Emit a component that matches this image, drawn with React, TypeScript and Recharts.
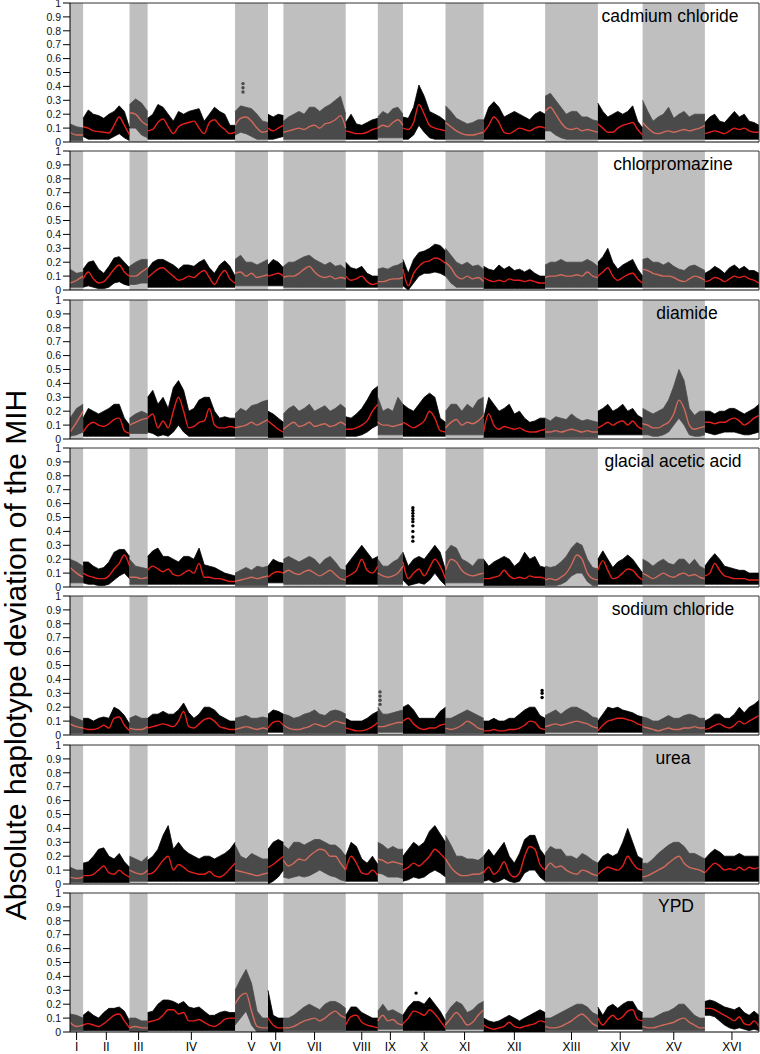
import React from "react";
import {
  ComposedChart,
  Area,
  Line,
  Scatter,
  XAxis,
  YAxis,
  ReferenceArea,
  ReferenceLine,
} from "recharts";

// chromosome layout (kb)
const chromNames = ["I", "II", "III", "IV", "V", "VI", "VII", "VIII", "IX", "X", "XI", "XII", "XIII", "XIV", "XV", "XVI"];
const chromLengths = [230, 813, 317, 1532, 577, 270, 1091, 563, 440, 746, 667, 1078, 924, 784, 1091, 948];
const yTicks = [0, 0.1, 0.2, 0.3, 0.4, 0.5, 0.6, 0.7, 0.8, 0.9, 1];

// per panel: fitted curve, upper and lower edge of the point cloud, per chromosome
const cadmiumFit = [
  [.07, .05, .05],
  [.11, .10, .08, .075, .07, .065, .12, .18, .12, .05],
  [.21, .20, .15, .12],
  [.08, .09, .14, .165, .11, .06, .11, .13, .14, .15, .10, .06, .14, .16, .12, .09, .06, .07],
  [.12, .17, .18, .15, .10, .07, .08],
  [.10, .08, .10, .12],
  [.07, .08, .09, .10, .09, .11, .12, .10, .13, .14, .16, .19, .10],
  [.08, .07, .06, .06, .07, .09, .10],
  [.10, .12, .11, .14, .16, .12],
  [.10, .09, .14, .27, .20, .12, .10, .09, .08],
  [.14, .11, .08, .06, .05, .05, .06, .07],
  [.07, .12, .18, .14, .07, .06, .08, .10, .09, .08, .10, .11, .10],
  [.22, .25, .20, .14, .10, .09, .10, .08, .09, .08, .07],
  [.13, .10, .07, .07, .10, .12, .13, .14, .09, .05],
  [.14, .10, .07, .06, .07, .08, .07, .08, .09, .08, .09, .10, .12],
  [.06, .07, .08, .07, .06, .08, .10, .09, .10, .08, .07, .07],
];
const cadmiumHi = [
  [.13, .11, .10],
  [.17, .23, .20, .19, .17, .20, .22, .26, .22, .10],
  [.27, .31, .28, .22],
  [.17, .20, .27, .25, .20, .15, .22, .20, .22, .23, .24, .15, .20, .25, .22, .20, .12, .12],
  [.22, .26, .25, .24, .20, .15, .14],
  [.20, .18, .20, .19],
  [.15, .18, .20, .22, .20, .25, .25, .22, .25, .27, .30, .33, .20],
  [.14, .20, .13, .12, .14, .16, .17],
  [.18, .22, .20, .24, .25, .20],
  [.18, .17, .25, .41, .33, .22, .20, .18, .15],
  [.26, .22, .17, .15, .13, .14, .16, .16],
  [.15, .25, .29, .25, .18, .20, .22, .20, .18, .16, .20, .22, .20],
  [.33, .35, .30, .25, .20, .22, .22, .18, .18, .16, .15],
  [.28, .22, .18, .20, .22, .20, .22, .26, .15, .10],
  [.30, .22, .15, .18, .20, .25, .17, .20, .22, .18, .20, .20, .20],
  [.14, .18, .20, .15, .14, .18, .22, .18, .20, .15, .14, .12],
];
const cadmiumLo = [
  .01, [.04, .02, .02, .02, .02, .02, .04, .06, .03, .01], [.10, .10, .05, .03], .02,
  [.05, .07, .06, .04, .02, .02, .02], [.02, .02, .03, .04], .02, .02, .03,
  [.02, .02, .05, .12, .07, .03, .02, .02, .02], .02, .02,
  [.08, .08, .05, .03, .02, .02, .02, .02, .02, .02, .02], .02, .02, .02,
];
const cadmiumOutliers = [{ x: 3031, y: .42 }, { x: 3031, y: .39 }, { x: 3031, y: .36 }];

const chlorFit = [
  [.05, .07, .10],
  [.08, .13, .08, .05, .06, .10, .15, .18, .13, .10],
  [.10, .10, .13, .16],
  [.09, .12, .15, .16, .13, .10, .07, .08, .10, .09, .12, .14, .09, .04, .10, .14, .08, .05],
  [.12, .13, .10, .12, .09, .10, .11],
  [.10, .11, .12, .10],
  [.09, .10, .10, .12, .15, .17, .13, .10, .09, .10, .08, .09, .08],
  [.10, .07, .08, .10, .06, .04, .05],
  [.06, .06, .07, .08, .08, .09],
  [.15, .03, .12, .17, .20, .21, .23, .22, .19],
  [.20, .16, .10, .08, .10, .08, .09, .06],
  [.09, .07, .06, .07, .06, .08, .07, .07, .06, .07, .06, .05, .05],
  [.09, .10, .10, .11, .10, .10, .11, .10, .13, .10, .09],
  [.10, .13, .16, .10, .07, .09, .11, .12, .08, .05],
  [.15, .14, .12, .11, .10, .10, .09, .07, .06, .08, .10, .09, .07],
  [.06, .07, .09, .08, .06, .08, .10, .09, .10, .08, .07, .05],
];
const chlorHi = [
  [.15, .12, .13],
  [.15, .20, .21, .15, .12, .17, .23, .24, .20, .16],
  [.17, .20, .22, .22],
  [.15, .20, .22, .22, .20, .18, .15, .18, .18, .17, .20, .22, .16, .12, .18, .21, .17, .10],
  [.22, .25, .20, .20, .18, .20, .22],
  [.18, .22, .20, .16],
  [.17, .20, .20, .22, .24, .25, .22, .20, .18, .20, .17, .18, .15],
  [.20, .16, .15, .17, .12, .10, .10],
  [.15, .16, .15, .17, .18, .20],
  [.22, .12, .22, .27, .28, .30, .33, .32, .28],
  [.30, .25, .20, .18, .20, .17, .18, .15],
  [.17, .15, .14, .18, .15, .17, .14, .15, .13, .15, .12, .10, .10],
  [.18, .20, .20, .22, .20, .20, .20, .20, .22, .20, .17],
  [.20, .24, .30, .20, .15, .18, .20, .22, .15, .10],
  [.22, .23, .20, .20, .18, .20, .17, .15, .14, .17, .18, .16, .14],
  [.12, .14, .17, .15, .12, .16, .18, .15, .17, .14, .14, .12],
];
const chlorLo = [
  .02, [.02, .03, .02, .01, .01, .02, .05, .06, .04, .03], [.04, .04, .05, .05], .02,
  .03, .03, .02, .02, .02, [.03, 0, .05, .10, .12, .12, .13, .12, .10],
  [.10, .05, .02, .02, .02, .02, .02, .02], .01, .02, .02, .02, .02,
];

const diamideFit = [
  [.05, .12, .20],
  [.05, .10, .12, .10, .09, .11, .14, .15, .06, .04],
  [.10, .12, .14, .15],
  [.15, .18, .08, .13, .08, .20, .30, .20, .08, .09, .12, .13, .22, .10, .08, .08, .09, .08],
  [.08, .09, .10, .12, .10, .12, .14],
  [.13, .10, .07, .05],
  [.07, .10, .12, .09, .10, .12, .09, .10, .11, .09, .10, .12, .10],
  [.07, .07, .08, .10, .13, .20, .25],
  [.12, .10, .10, .09, .10, .11],
  [.12, .10, .08, .10, .13, .20, .15, .06, .05],
  [.08, .12, .14, .10, .12, .11, .13, .17],
  [.05, .18, .10, .07, .09, .08, .07, .08, .06, .05, .05, .06, .07],
  [.05, .05, .06, .05, .06, .07, .06, .05, .06, .05, .05],
  [.08, .10, .12, .10, .12, .13, .10, .13, .09, .07],
  [.11, .10, .08, .08, .10, .12, .18, .28, .22, .10, .07, .08, .09],
  [.12, .12, .11, .12, .12, .14, .15, .13, .10, .12, .15, .17],
];
const diamideHi = [
  [.15, .22, .25],
  [.15, .22, .20, .18, .20, .22, .25, .25, .15, .10],
  [.15, .18, .20, .18],
  [.30, .35, .25, .30, .22, .37, .42, .35, .20, .22, .28, .30, .30, .20, .15, .16, .15, .15],
  [.18, .22, .20, .24, .25, .27, .28],
  [.20, .18, .15, .12],
  [.18, .22, .24, .20, .22, .25, .20, .22, .24, .20, .22, .25, .22],
  [.16, .15, .18, .22, .28, .35, .38],
  [.30, .20, .22, .20, .30, .25],
  [.25, .22, .20, .25, .30, .33, .30, .15, .12],
  [.20, .25, .25, .20, .25, .22, .28, .30],
  [.15, .30, .25, .20, .22, .25, .18, .20, .15, .12, .13, .15, .15],
  [.15, .13, .16, .15, .14, .18, .15, .13, .14, .13, .12],
  [.20, .22, .25, .20, .22, .25, .20, .22, .17, .15],
  [.22, .20, .18, .20, .22, .28, .38, .50, .42, .22, .17, .20, .20],
  [.20, .20, .18, .20, .20, .22, .22, .20, .18, .20, .22, .25],
];
const diamideLo = [
  [.02, .03, .05], .02, .04,
  [.05, .04, .02, .03, .02, .05, .10, .05, .02, .02, .02, .02, .02, .02, .02, .02, .02, .02],
  .02, .01, .02, [.02, .02, .02, .03, .05, .08, .10], .03, .02, .03, .01, .01, .03,
  [.03, .03, .02, .02, .03, .05, .10, .15, .10, .03, .02, .02, .03],
  [.05, .04, .03, .04, .05, .05, .05, .04, .03, .03, .04, .05],
];

const aceticFit = [
  [.14, .10, .07],
  [.10, .08, .07, .06, .06, .08, .13, .17, .23, .15],
  [.07, .07, .06, .07],
  [.12, .15, .13, .11, .13, .09, .08, .10, .12, .10, .17, .07, .07, .06, .06, .05, .04, .04],
  [.04, .05, .06, .07, .06, .07, .08],
  [.07, .10, .11, .10],
  [.10, .12, .10, .09, .11, .12, .10, .08, .10, .12, .09, .06, .05],
  [.07, .09, .12, .20, .12, .10, .15],
  [.10, .08, .07, .08, .10, .15],
  [.18, .06, .10, .13, .08, .14, .20, .15, .06],
  [.12, .20, .18, .12, .09, .08, .09, .10],
  [.06, .06, .07, .08, .12, .08, .06, .07, .06, .08, .07, .07, .06],
  [.05, .06, .05, .07, .10, .16, .23, .20, .10, .06, .05],
  [.12, .19, .12, .06, .07, .10, .13, .12, .08, .05],
  [.10, .08, .06, .08, .10, .08, .07, .09, .10, .08, .09, .07, .06],
  [.08, .10, .17, .12, .08, .07, .06, .06, .06, .05, .05, .05],
];
const aceticHi = [
  [.20, .18, .15],
  [.18, .18, .15, .13, .14, .18, .25, .27, .27, .22],
  [.20, .15, .14, .13],
  [.22, .26, .28, .22, .22, .20, .18, .22, .22, .20, .28, .16, .15, .14, .12, .10, .09, .08],
  [.10, .12, .14, .12, .15, .14, .15],
  [.15, .20, .18, .17],
  [.20, .22, .20, .18, .20, .22, .20, .16, .20, .22, .18, .13, .12],
  [.15, .20, .25, .30, .25, .20, .22],
  [.20, .15, .15, .18, .20, .25],
  [.25, .15, .20, .22, .20, .25, .30, .25, .12],
  [.25, .30, .28, .20, .18, .15, .20, .20],
  [.20, .15, .18, .20, .22, .20, .15, .18, .25, .20, .22, .15, .14],
  [.15, .14, .15, .18, .22, .28, .32, .30, .20, .14, .13],
  [.20, .26, .20, .14, .18, .20, .23, .20, .15, .10],
  [.20, .18, .15, .18, .20, .17, .16, .20, .20, .16, .20, .15, .13],
  [.15, .20, .24, .20, .15, .14, .13, .12, .12, .10, .10, .10],
];
const aceticLo = [
  .03, [.03, .02, .02, .01, .01, .02, .05, .08, .10, .06], .02, .02, .01, .03, .02, .02, .02,
  [.05, .01, .02, .03, .02, .05, .10, .05, .01], .03, .01,
  [.01, .01, .01, .02, .04, .08, .10, .10, .04, .01, .01], .02, .02, .02,
];
const aceticOutliers = [.57, .55, .53, .51, .49, .47, .44, .40, .36, .33].map((y) => ({ x: 6007, y }));

const sodiumFit = [
  [.08, .06, .05],
  [.05, .04, .04, .05, .07, .05, .12, .13, .07, .03],
  [.05, .04, .04, .06],
  [.05, .06, .07, .08, .07, .06, .10, .17, .06, .05, .08, .11, .12, .10, .06, .05, .04, .04],
  [.04, .05, .06, .05, .04, .05, .04],
  [.05, .09, .10, .07],
  [.07, .05, .04, .04, .05, .06, .08, .07, .06, .08, .10, .09, .08],
  [.05, .04, .03, .03, .04, .06, .09],
  [.06, .06, .07, .08, .09, .09],
  [.10, .12, .08, .05, .04, .05, .05, .07, .08],
  [.05, .04, .05, .07, .10, .08, .05, .04],
  [.03, .03, .04, .03, .03, .04, .04, .05, .07, .10, .09, .05, .04],
  [.06, .07, .08, .07, .08, .09, .10, .09, .08, .06, .05],
  [.03, .07, .10, .11, .12, .12, .11, .10, .08, .07],
  [.06, .05, .04, .03, .04, .05, .04, .04, .05, .05, .06, .05, .05],
  [.04, .05, .07, .08, .06, .05, .07, .10, .08, .10, .12, .14],
];
const sodiumHi = [
  [.14, .12, .10],
  [.12, .12, .10, .12, .13, .12, .20, .18, .14, .08],
  [.12, .14, .12, .12],
  [.12, .15, .15, .17, .15, .15, .18, .23, .16, .12, .15, .20, .20, .18, .14, .12, .10, .10],
  [.12, .13, .14, .12, .12, .13, .12],
  [.15, .18, .17, .15],
  [.15, .14, .12, .13, .15, .16, .18, .15, .14, .17, .18, .17, .15],
  [.12, .10, .10, .10, .12, .15, .17],
  [.20, .15, .15, .16, .17, .18],
  [.20, .22, .18, .12, .12, .12, .12, .17, .20],
  [.12, .12, .14, .16, .18, .16, .14, .12],
  [.10, .10, .12, .10, .10, .12, .12, .15, .18, .20, .20, .14, .12],
  [.14, .16, .18, .15, .18, .20, .20, .18, .16, .13, .12],
  [.10, .15, .20, .19, .20, .18, .17, .16, .14, .13],
  [.13, .12, .10, .10, .12, .14, .12, .12, .14, .15, .14, .12, .12],
  [.10, .12, .15, .15, .12, .12, .15, .20, .16, .20, .22, .25],
];
const sodiumLo = [.01, .01, .01, .01, .01, .02, .01, .01, .02, .01, .01, .01, .02, .02, .01, .02];
const sodiumOutliers = [
  { x: 5432, y: .31 }, { x: 5432, y: .28 }, { x: 5432, y: .25 }, { x: 5432, y: .22 },
  { x: 8271, y: .32 }, { x: 8271, y: .30 }, { x: 8271, y: .27 },
];

const ureaFit = [
  [.05, .04, .05],
  [.06, .06, .07, .10, .13, .08, .07, .10, .07, .05],
  [.10, .08, .07, .10],
  [.07, .08, .12, .17, .20, .10, .14, .12, .09, .08, .07, .07, .09, .06, .05, .07, .11, .15],
  [.10, .09, .08, .07, .06, .07, .08],
  [.12, .14, .17, .20],
  [.17, .13, .15, .18, .17, .20, .23, .25, .24, .20, .20, .15, .10],
  [.10, .20, .15, .08, .07, .10, .06],
  [.18, .17, .15, .16, .15, .14],
  [.10, .12, .15, .13, .16, .20, .25, .22, .18],
  [.18, .12, .08, .06, .06, .07, .07, .09],
  [.08, .12, .07, .10, .16, .08, .05, .08, .20, .27, .25, .14, .10],
  [.10, .15, .12, .13, .10, .08, .07, .10, .09, .07, .06],
  [.07, .10, .12, .11, .10, .13, .20, .15, .11, .10],
  [.05, .06, .08, .10, .12, .15, .18, .20, .15, .12, .11, .10, .08],
  [.08, .12, .15, .13, .10, .11, .10, .12, .10, .12, .11, .12],
];
const ureaHi = [
  [.12, .10, .10],
  [.15, .16, .20, .25, .26, .20, .18, .22, .16, .12],
  [.20, .18, .16, .20],
  [.17, .20, .25, .35, .42, .25, .30, .25, .22, .20, .18, .20, .20, .18, .20, .22, .25, .30],
  [.28, .20, .18, .22, .20, .18, .18],
  [.25, .30, .32, .30],
  [.28, .25, .30, .30, .28, .30, .32, .32, .30, .28, .28, .25, .20],
  [.20, .30, .27, .18, .15, .20, .14],
  [.30, .28, .25, .27, .25, .25],
  [.20, .25, .30, .27, .30, .38, .42, .36, .30],
  [.35, .28, .20, .20, .18, .18, .17, .20],
  [.20, .25, .20, .25, .30, .20, .15, .22, .32, .35, .35, .25, .20],
  [.22, .27, .25, .25, .20, .20, .18, .22, .20, .17, .15],
  [.15, .20, .22, .20, .22, .30, .40, .30, .20, .18],
  [.15, .15, .18, .22, .25, .28, .30, .30, .27, .22, .22, .20, .18],
  [.18, .22, .25, .23, .20, .20, .20, .22, .20, .20, .20, .20],
];
const ureaLo = [
  .01, .01, .02, .02, .02, [0, .02, .05, .10],
  [.05, .04, .05, .06, .05, .06, .08, .10, .08, .06, .05, .03, .02], .02,
  [.08, .07, .05, .05, .05, .04], [.02, .03, .05, .04, .05, .08, .10, .08, .05], .01,
  [.02, .03, .01, .02, .04, .02, .01, .02, .08, .10, .10, .05, .02], .02, .02, .02, .02,
];

const ypdFit = [
  [.07, .04, .05],
  [.05, .06, .05, .04, .06, .09, .12, .13, .08, .03],
  [.03, .04, .03, .03],
  [.07, .08, .09, .12, .16, .16, .13, .14, .08, .08, .09, .07, .05, .04, .06, .09, .10, .10],
  [.20, .26, .28, .15, .04, .03, .03],
  [.10, .05, .03, .03],
  [.03, .03, .04, .06, .08, .09, .10, .08, .10, .13, .15, .12, .10],
  [.05, .11, .12, .07, .05, .04, .03],
  [.08, .12, .08, .09, .06, .05],
  [.06, .10, .15, .14, .12, .16, .13, .08, .03],
  [.05, .10, .14, .10, .05, .07, .12, .16],
  [.05, .03, .02, .03, .04, .07, .04, .03, .04, .05, .06, .08, .07],
  [.04, .03, .03, .04, .06, .08, .11, .13, .10, .06, .04],
  [.10, .05, .09, .12, .09, .11, .15, .16, .09, .08],
  [.04, .03, .03, .04, .05, .06, .07, .09, .10, .07, .05, .03, .03],
  [.17, .17, .16, .14, .12, .10, .08, .11, .06, .05, .08, .04],
];
const ypdHi = [
  [.13, .12, .10],
  [.12, .15, .12, .10, .14, .17, .17, .18, .15, .08],
  [.10, .10, .08, .08],
  [.14, .15, .20, .23, .23, .22, .20, .22, .18, .17, .18, .15, .12, .12, .14, .15, .14, .14],
  [.30, .38, .45, .35, .15, .10, .10],
  [.30, .12, .10, .10],
  [.10, .10, .12, .15, .18, .20, .18, .16, .20, .22, .22, .20, .17],
  [.12, .18, .18, .14, .12, .10, .10],
  [.15, .20, .15, .16, .14, .12],
  [.12, .18, .22, .22, .20, .25, .20, .15, .08],
  [.12, .18, .22, .20, .14, .16, .20, .22],
  [.10, .08, .07, .08, .10, .12, .10, .08, .10, .12, .14, .16, .14],
  [.10, .10, .12, .14, .16, .18, .20, .20, .18, .14, .12],
  [.18, .12, .18, .20, .17, .20, .22, .22, .16, .14],
  [.10, .10, .10, .12, .14, .15, .17, .20, .20, .16, .12, .10, .10],
  [.22, .23, .22, .20, .18, .17, .16, .18, .14, .12, .15, .12],
];
const ypdLo = [
  .01, .01, 0, .01, [.05, .10, .15, .05, 0, 0, 0], 0, .01, .01, .02, .01, .02, 0, .01, .02, .01,
  [.12, .12, .11, .08, .05, .03, .02, .03, .02, .01, .02, .01],
];
const ypdOutliers = [{ x: 6063, y: .28 }];

const panels = [
  { title: "cadmium chloride", fit: cadmiumFit, hi: cadmiumHi, lo: cadmiumLo, outliers: cadmiumOutliers, titleX: 670 },
  { title: "chlorpromazine", fit: chlorFit, hi: chlorHi, lo: chlorLo, outliers: [], titleX: 673 },
  { title: "diamide", fit: diamideFit, hi: diamideHi, lo: diamideLo, outliers: [], titleX: 687 },
  { title: "glacial acetic acid", fit: aceticFit, hi: aceticHi, lo: aceticLo, outliers: aceticOutliers, titleX: 673 },
  { title: "sodium chloride", fit: sodiumFit, hi: sodiumHi, lo: sodiumLo, outliers: sodiumOutliers, titleX: 673 },
  { title: "urea", fit: ureaFit, hi: ureaHi, lo: ureaLo, outliers: [], titleX: 673 },
  { title: "YPD", fit: ypdFit, hi: ypdHi, lo: ypdLo, outliers: ypdOutliers, titleX: 676 },
];

const font = "'Liberation Sans', Arial, Helvetica, sans-serif";
const BAND = "#bfbfbf";
const CLOUD_WHITE = "#000000";
const CLOUD_GREY = "#4a4a4a";
const FIT_WHITE = "#e3201b";
const FIT_GREY = "#d26b5c";

const chromStarts: number[] = [];
chromLengths.reduce((acc, len) => {
  chromStarts.push(acc);
  return acc + len;
}, 0);
const genomeLength = chromLengths.reduce((a, b) => a + b, 0);
const chromMids = chromStarts.map((s, i) => s + chromLengths[i] / 2);
const isGrey = (c: number) => c % 2 === 0;
const chromAt = (x: number) => {
  let c = 0;
  chromStarts.forEach((s, i) => {
    if (x >= s) c = i;
  });
  return c;
};

type Row = {
  x: number;
  greyCloud: number[] | null;
  whiteCloud: number[] | null;
  greyFit: number | null;
  whiteFit: number | null;
};

function buildRows(fit: number[][], hi: number[][], lo: (number | number[])[]) {
  const rows: Row[] = [];
  fit.forEach((f, c) => {
    const n = f.length;
    const grey = isGrey(c);
    f.forEach((v, i) => {
      const x = chromStarts[c] + (chromLengths[c] * i) / (n - 1);
      const loC = lo[c];
      const l = Array.isArray(loC) ? loC[i] : loC;
      const band = [l, hi[c][i]];
      rows.push({
        x,
        greyCloud: grey ? band : null,
        whiteCloud: grey ? null : band,
        greyFit: grey ? v : null,
        whiteFit: grey ? null : v,
      });
    });
  });
  return rows;
}

const PLOT_TOP = 3;
const PLOT_H = 139;
const STEP = 148.3;
const MARGIN_T = 6;

function OutlierDot(props: any) {
  const { cx, cy, payload } = props;
  if (cx == null || cy == null) return null;
  const fill = isGrey(chromAt(payload.x)) ? CLOUD_GREY : CLOUD_WHITE;
  return <circle cx={cx} cy={cy} r={1.7} fill={fill} />;
}

function Panel({ p, index }: { p: (typeof panels)[number]; index: number }) {
  const last = index === panels.length - 1;
  const rows = buildRows(p.fit, p.hi, p.lo);
  const plotTop = PLOT_TOP + index * STEP;
  const xAxisH = last ? 22 : 0;
  const height = MARGIN_T + PLOT_H + (last ? xAxisH : 6);
  return (
    <>
      <div style={{ position: "absolute", left: 0, top: plotTop - MARGIN_T }}>
        <ComposedChart
          width={760}
          height={height}
          data={rows}
          margin={{ top: MARGIN_T, right: 1, bottom: last ? 0 : 6, left: 0 }}
        >
          {chromLengths.map((len, c) =>
            isGrey(c) ? (
              <ReferenceArea
                key={chromNames[c]}
                x1={chromStarts[c]}
                x2={chromStarts[c] + len}
                y1={0}
                y2={1}
                fill={BAND}
                fillOpacity={1}
                stroke="none"
              />
            ) : null
          )}
          <XAxis
            type="number"
            dataKey="x"
            domain={[0, genomeLength]}
            allowDataOverflow
            hide={!last}
            height={xAxisH}
            ticks={chromMids}
            interval={0}
            tickSize={8}
            tickFormatter={(v: number) => chromNames[chromMids.indexOf(v)] ?? ""}
            tick={{ fontSize: 12, fill: "#000", fontFamily: font }}
            axisLine={{ stroke: "#000" }}
            tickLine={{ stroke: "#000" }}
          />
          <YAxis
            type="number"
            domain={[0, 1]}
            allowDataOverflow
            ticks={yTicks}
            interval={0}
            width={70}
            tickSize={7}
            tick={{ fontSize: 10.5, fill: "#111", fontFamily: font }}
            axisLine={{ stroke: "#000" }}
            tickLine={{ stroke: "#000" }}
          />
          <Area
            dataKey="greyCloud"
            type="linear"
            fill={CLOUD_GREY}
            fillOpacity={1}
            stroke={CLOUD_GREY}
            strokeWidth={0.8}
            isAnimationActive={false}
            activeDot={false}
          />
          <Area
            dataKey="whiteCloud"
            type="linear"
            fill={CLOUD_WHITE}
            fillOpacity={1}
            stroke={CLOUD_WHITE}
            strokeWidth={0.8}
            isAnimationActive={false}
            activeDot={false}
          />
          <Scatter data={p.outliers} dataKey="y" shape={OutlierDot} isAnimationActive={false} />
          <Line
            dataKey="greyFit"
            type="monotone"
            stroke={FIT_GREY}
            strokeWidth={1.4}
            dot={false}
            activeDot={false}
            isAnimationActive={false}
          />
          <Line
            dataKey="whiteFit"
            type="monotone"
            stroke={FIT_WHITE}
            strokeWidth={1.4}
            dot={false}
            activeDot={false}
            isAnimationActive={false}
          />
          <ReferenceLine y={1} stroke="#333" strokeWidth={1} />
          <ReferenceLine x={genomeLength} stroke="#333" strokeWidth={1} />
          {!last && <ReferenceLine y={0} stroke="#000" strokeWidth={1} />}
        </ComposedChart>
      </div>
      <div
        style={{
          position: "absolute",
          left: p.titleX,
          top: plotTop + 3,
          transform: "translateX(-50%)",
          fontFamily: font,
          fontSize: 17.5,
          lineHeight: "20px",
          whiteSpace: "nowrap",
          color: "#000",
        }}
      >
        {p.title}
      </div>
    </>
  );
}

export default function App() {
  return (
    <div
      style={{
        position: "absolute",
        left: 0,
        top: 0,
        width: 760,
        height: 1054,
        background: "#fff",
        overflow: "hidden",
      }}
    >
      {panels.map((p, i) => (
        <Panel key={p.title} p={p} index={i} />
      ))}
      <div
        style={{
          position: "absolute",
          left: 16,
          top: 655,
          transform: "translate(-50%, -50%) rotate(-90deg)",
          fontFamily: font,
          fontSize: 30,
          lineHeight: "30px",
          whiteSpace: "nowrap",
          color: "#000",
        }}
      >
        Absolute haplotype deviation of the MIH
      </div>
    </div>
  );
}
